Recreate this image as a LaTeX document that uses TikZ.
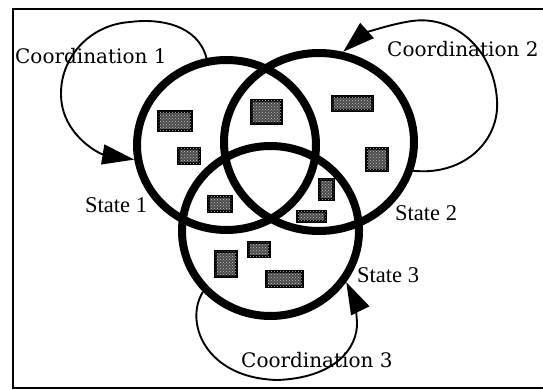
\documentclass[tikz,border=0pt]{standalone}
\usepackage{fontspec}
\newfontfamily\coordfont{DejaVu Serif}
\newfontfamily\statefont{Liberation Serif}
\usetikzlibrary{shapes.geometric,arrows.meta,patterns}
\begin{document}
\begin{tikzpicture}[x=1pt,y=-1pt,
  ring/.style={ellipse,draw=black,line width=8pt,inner sep=0pt},
  shbox/.style={rectangle,draw=black,line width=3pt,inner sep=0pt,fill=black!70,
     postaction={pattern=crosshatch dots,pattern color=white!75!black}},
  coordlabel/.style={anchor=base west,inner sep=0pt,font=\coordfont\fontsize{20}{24}\selectfont},
  statelabel/.style={anchor=base west,inner sep=0pt,font=\statefont\fontsize{22.5}{26}\selectfont},
  coordarrow/.style={line width=1.9pt,-{Triangle[length=32pt,width=20pt]}},
  frameline/.style={line width=1.8pt}]
\useasboundingbox (0,0) rectangle (543,390);
\fill[white] (0,0) rectangle (543,390);
% frame
\coordinate (fTR) at (543,9);
\coordinate (fTL) at (13,9);
\coordinate (fBL) at (13,388);
\coordinate (fBR) at (543,388);
\draw[frameline] (fTR) -- (fTL) -- (fBL) -- (fBR);
% labels
\node[coordlabel] (t1) at (15,64) {Coordination 1};
\node[coordlabel] (t2) at (387,57) {Coordination 2};
\node[coordlabel] (t3) at (241,367) {Coordination 3};
\node[statelabel] (s1) at (85,212) {State 1};
\node[statelabel] (s2) at (395,220) {State 2};
\node[statelabel] (s3) at (357,282) {State 3};
% boxes
\node[shbox,minimum width=33pt,minimum height=19pt] (b1) at (175,121) {};
\node[shbox,minimum width=21pt,minimum height=15pt] (b2) at (189,156) {};
\node[shbox,minimum width=30pt,minimum height=23pt] (b3) at (266.5,112) {};
\node[shbox,minimum width=23pt,minimum height=15pt] (b4) at (220,204) {};
\node[shbox,minimum width=40pt,minimum height=14pt] (b5) at (352.5,103.5) {};
\node[shbox,minimum width=21pt,minimum height=22pt] (b6) at (377,159.5) {};
\node[shbox,minimum width=14pt,minimum height=20pt] (b7) at (326.5,189.5) {};
\node[shbox,minimum width=28pt,minimum height=10pt] (b8) at (311.5,216.5) {};
\node[shbox,minimum width=21pt,minimum height=14pt] (b9) at (259,249.5) {};
\node[shbox,minimum width=21pt,minimum height=25pt] (b10) at (226,264) {};
\node[shbox,minimum width=36pt,minimum height=15pt] (b11) at (284.5,279) {};
% state circles
\node[ring,minimum width=179pt,minimum height=170pt] (c1) at (226.5,145) {};
\node[ring,minimum width=190pt,minimum height=178pt] (c2) at (319,142) {};
\node[ring,minimum width=177pt,minimum height=170pt] (c3) at (270.5,231) {};
% coordination loops
\draw[coordarrow] (c1.103) .. controls (198,25) and (160,18) .. (130,22)
   .. controls (85,25) and (55,65) .. (62,105)
   .. controls (68,138) and (100,154) .. (c1.189);
\draw[coordarrow] (c2.-17) .. controls (465,176) and (500,140) .. (497,100)
   .. controls (494,50) and (455,15) .. (412,21)
   .. controls (385,25) and (362,35) .. (c2.75);
\draw[coordarrow] (c3.222) .. controls (184,322) and (205,378) .. (277,380)
   .. controls (335,378) and (358,348) .. (357,322)
   .. controls (356,310) and (355,300) .. (c3.-34);
\end{tikzpicture}
\end{document}
